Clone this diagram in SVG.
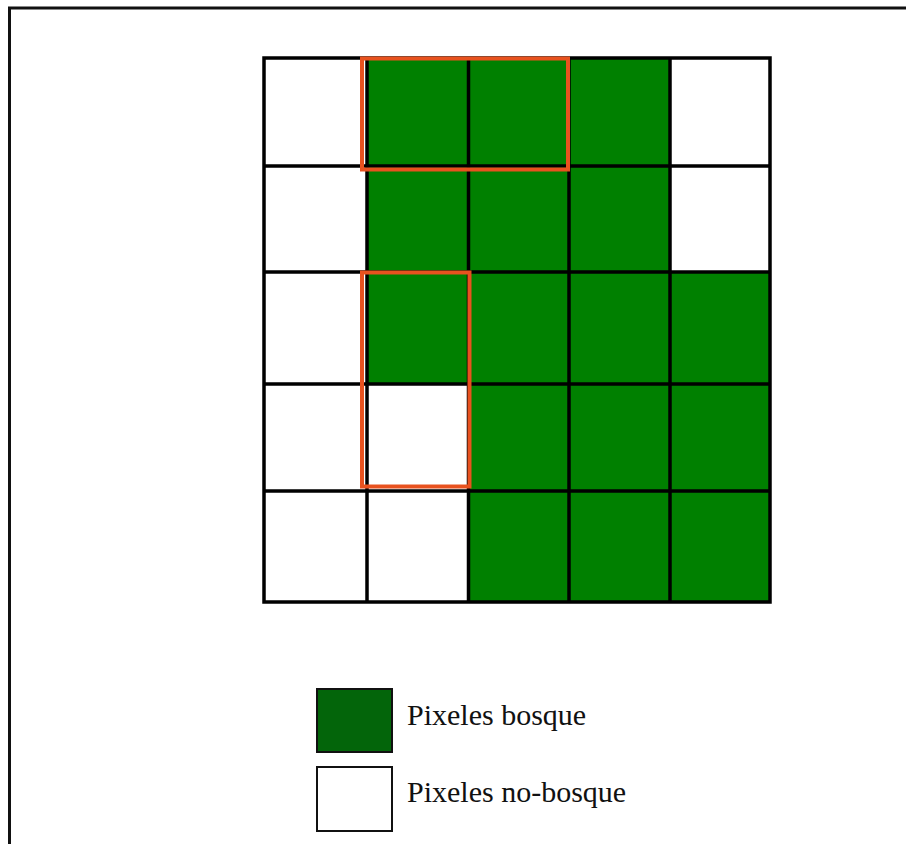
<svg xmlns="http://www.w3.org/2000/svg" width="906" height="844" viewBox="0 0 906 844">
<style>
.g{fill:#008000}
.w{fill:#ffffff}
.cell{stroke:#000;stroke-width:3.5}
.hl{fill:none;stroke:#e8521f;stroke-width:4}
.lg{stroke:#111;stroke-width:2}
.t{font-family:"Liberation Serif","Times New Roman",serif;font-size:30px;fill:#111}
</style>
<rect width="906" height="844" fill="#fff"/>
<path d="M9.5 844 V8 H906" fill="none" stroke="#111" stroke-width="3"/>
<g id="grid">
<rect class="w" x="264" y="58" width="103" height="108"/>
<rect class="g" x="367" y="58" width="101.5" height="108"/>
<rect class="g" x="468.5" y="58" width="100.5" height="108"/>
<rect class="g" x="569" y="58" width="101" height="108"/>
<rect class="w" x="670" y="58" width="100" height="108"/>
<rect class="w" x="264" y="166" width="103" height="106"/>
<rect class="g" x="367" y="166" width="101.5" height="106"/>
<rect class="g" x="468.5" y="166" width="100.5" height="106"/>
<rect class="g" x="569" y="166" width="101" height="106"/>
<rect class="w" x="670" y="166" width="100" height="106"/>
<rect class="w" x="264" y="272" width="103" height="112"/>
<rect class="g" x="367" y="272" width="101.5" height="112"/>
<rect class="g" x="468.5" y="272" width="100.5" height="112"/>
<rect class="g" x="569" y="272" width="101" height="112"/>
<rect class="g" x="670" y="272" width="100" height="112"/>
<rect class="w" x="264" y="384" width="103" height="107"/>
<rect class="w" x="367" y="384" width="101.5" height="107"/>
<rect class="g" x="468.5" y="384" width="100.5" height="107"/>
<rect class="g" x="569" y="384" width="101" height="107"/>
<rect class="g" x="670" y="384" width="100" height="107"/>
<rect class="w" x="264" y="491" width="103" height="111"/>
<rect class="w" x="367" y="491" width="101.5" height="111"/>
<rect class="g" x="468.5" y="491" width="100.5" height="111"/>
<rect class="g" x="569" y="491" width="101" height="111"/>
<rect class="g" x="670" y="491" width="100" height="111"/>
<path class="cell" fill="none" d="M264 58 H770 V602 H264 Z M367 58 V602 M468.5 58 V602 M569 58 V602 M670 58 V602 M264 166 H770 M264 272 H770 M264 384 H770 M264 491 H770"/>
</g>
<g id="highlight-horizontal"><rect class="hl" x="362" y="58.5" width="206" height="111"/></g>
<g id="highlight-vertical"><rect class="hl" x="362" y="272.5" width="107.5" height="214"/></g>
<g id="legend-bosque">
<rect class="lg" x="317" y="689" width="75" height="63" fill="#03650a"/>
<text class="t" x="407" y="725">Pixeles bosque</text>
</g>
<g id="legend-no-bosque">
<rect class="lg" x="317" y="767" width="75" height="64" fill="#fff"/>
<text class="t" x="407" y="802">Pixeles no-bosque</text>
</g>
<g id="connectors"/>
</svg>
